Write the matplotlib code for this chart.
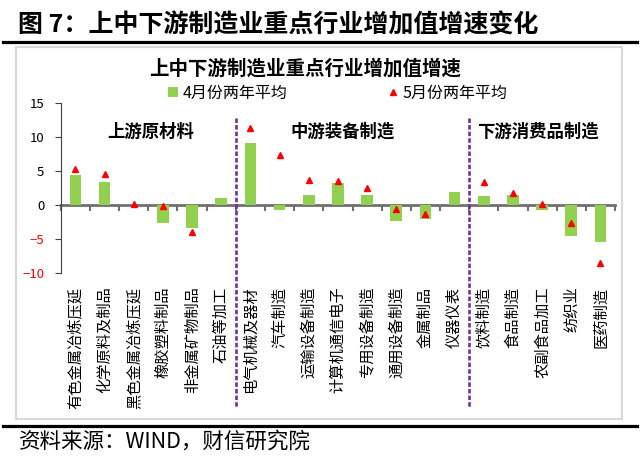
import numpy as np
import matplotlib
matplotlib.use("Agg")
import matplotlib.pyplot as plt
from matplotlib.lines import Line2D
from matplotlib.patches import Rectangle
import matplotlib.transforms as mtransforms

plt.rcParams["font.family"] = ["Noto Sans CJK SC", "DejaVu Sans"]

# 数据
categorias_montante = ["有色金属冶炼压延", "化学原料及制品", "黑色金属冶炼压延",
                       "橡胶塑料制品", "非金属矿物制品", "石油等加工"]
categorias_meio = ["电气机械及器材", "汽车制造", "运输设备制造", "计算机通信电子",
                   "专用设备制造", "通用设备制造", "金属制品", "仪器仪表"]
categorias_jusante = ["饮料制造", "食品制造", "农副食品加工", "纺织业", "医药制造"]

abril_dois_anos = [4.4, 3.4, np.nan, -2.7, -3.4, 1.0,
                   9.2, -0.7, 1.5, 3.3, 1.5, -2.3, -2.1, 1.9,
                   1.3, 1.5, -0.8, -4.6, -5.5]
maio_dois_anos = [5.3, 4.5, 0.2, -0.1, -4.0, np.nan,
                  11.3, 7.4, 3.7, 3.6, 2.5, -0.6, -1.3, np.nan,
                  3.4, 1.8, 0.1, -2.7, -8.5]

titulos_grupos = ["上游原材料", "中游装备制造", "下游消费品制造"]

categorias = categorias_montante + categorias_meio + categorias_jusante
x = np.arange(len(categorias))

VERDE = "#92D050"
VERMELHO = "#FF0000"
ROXO = "#7030A0"

fig = plt.figure(figsize=(6.4, 4.58), dpi=100)
ax = fig.add_axes([0.095, 0.4046, 0.866, 0.3699])

barras = ax.bar(x, abril_dois_anos, width=0.4, color=VERDE,
                label="4月份两年平均", zorder=2)
(pontos,) = ax.plot(x, maio_dois_anos, linestyle="none", marker="^",
                    markersize=5, color=VERMELHO, label="5月份两年平均", zorder=3)

ax.set_xlim(-0.5, len(categorias) - 0.5)
ax.set_ylim(-10, 15)
ax.set_yticks([-10, -5, 0, 5, 10, 15])
ax.tick_params(axis="y", direction="out", length=4, width=0.8, labelsize=9.5,
               pad=8, colors="#404040")
for rotulo, valor in zip(ax.get_yticklabels(), ax.get_yticks()):
    rotulo.set_color(VERMELHO if valor < 0 else "black")

ax.set_xticks(x)
ax.set_xticklabels(categorias, rotation=90, fontsize=11, va="top")
ax.tick_params(axis="x", length=0, pad=10)

for lado in ["top", "right", "bottom"]:
    ax.spines[lado].set_visible(False)
ax.spines["left"].set_color("#404040")
ax.spines["left"].set_linewidth(0.8)

# eixo zero com marcas entre as categorias
frac_zero = (0 - (-10)) / 25
eixo_zero = ax.secondary_xaxis(frac_zero)
eixo_zero.set_xticks(np.arange(len(categorias) + 1) - 0.5)
eixo_zero.set_xticklabels([])
eixo_zero.tick_params(axis="x", direction="out", length=4, width=1.5,
                      color="#707070")
eixo_zero.spines["bottom"].set_color("#707070")
eixo_zero.spines["bottom"].set_linewidth(2)

# linhas divisórias entre os grupos
trans = mtransforms.blended_transform_factory(ax.transData, ax.transAxes)
limites = [len(categorias_montante) - 0.5,
           len(categorias_montante) + len(categorias_meio) - 0.5]
for limite in limites:
    ax.plot([limite, limite], [0.913, -0.793], transform=trans, color=ROXO,
            linewidth=1.9, dashes=(1.7, 0.8), clip_on=False, zorder=4)

posicoes_titulos = [0.162, 0.508, 0.861]
for titulo, px in zip(titulos_grupos, posicoes_titulos):
    ax.text(px, 0.83, titulo, transform=ax.transAxes, ha="center", va="center",
            fontsize=12.5, fontweight="bold", color="black")

# legenda
ax.legend(handles=[barras, pontos], loc="center", bbox_to_anchor=(0.528, 0.797),
          bbox_transform=fig.transFigure, ncol=2, frameon=False,
          fontsize=11.5, handlelength=0.6, handleheight=0.6,
          handletextpad=0.3, columnspacing=6.3, borderpad=0)

fig.text(0.477, 0.851, "上中下游制造业重点行业增加值增速", ha="center", va="center",
         fontsize=14, fontweight="bold", color="black")

# moldura e cabeçalho
fig.add_artist(Rectangle((0.025, 0.085), 0.947, 0.812, transform=fig.transFigure,
                         fill=False, edgecolor="#D9D9D9", linewidth=1.5))
fig.add_artist(Line2D([0.005, 0.995], [0.909, 0.909], transform=fig.transFigure,
                      color="black", linewidth=2.3))
fig.add_artist(Line2D([0.005, 0.995], [0.0705, 0.0705], transform=fig.transFigure,
                      color="black", linewidth=2.3))

fig.text(0.028, 0.945, "图 7：上中下游制造业重点行业增加值增速变化", ha="left",
         va="center", fontsize=18, fontweight="bold", color="black")
fig.text(0.03, 0.035, "资料来源：WIND，财信研究院", ha="left", va="center",
         fontsize=15.5, color="black")

fig.savefig("out.png", dpi=100)
